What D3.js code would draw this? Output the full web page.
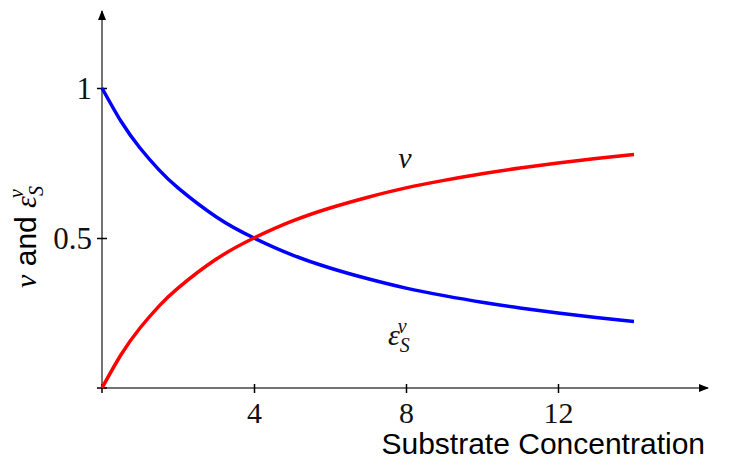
<!DOCTYPE html>
<html>
<head>
<meta charset="utf-8">
<script src="https://cdn.jsdelivr.net/npm/d3@7"></script>
<style>
  body { margin: 0; background: white; }
</style>
</head>
<body>
<div id="chart"></div>
<script>
const w = 729;
const h = 466;

// values
const substrate = [0, 0.5, 1, 1.5, 2, 3, 4, 5, 6, 7, 8, 9, 10, 11, 12, 13, 14];
const rate = [0, 0.111, 0.2, 0.273, 0.333, 0.429, 0.5, 0.556, 0.6, 0.636, 0.667, 0.692, 0.714, 0.733, 0.75, 0.765, 0.778];
const elasticity = [1, 0.889, 0.8, 0.727, 0.667, 0.571, 0.5, 0.444, 0.4, 0.364, 0.333, 0.308, 0.286, 0.267, 0.25, 0.235, 0.222];
const xTicks = [4, 8, 12];
const yTicks = [0.5, 1];

const serif = '"Liberation Serif", "DejaVu Serif", serif';
const sans = '"Liberation Sans", Arial, sans-serif';

const svg = d3.select('#chart')
  .append('svg')
  .attr('width', w)
  .attr('height', h)
  .style('background-color', 'white');

const xScale = d3.scaleLinear().domain([0, 14]).range([102, 634]);
const yScale = d3.scaleLinear().domain([0, 1]).range([388, 88]);

const defs = svg.append('defs');
defs.append('marker')
  .attr('id', 'arrow')
  .attr('viewBox', '0 0 10 10')
  .attr('refX', 9)
  .attr('refY', 5)
  .attr('markerWidth', 10)
  .attr('markerHeight', 10)
  .attr('markerUnits', 'userSpaceOnUse')
  .attr('orient', 'auto')
  .append('path')
  .attr('d', 'M0,1 L10,5 L0,9 Z')
  .attr('fill', 'black');

// axes lines with arrows
svg.append('line')
  .attr('x1', xScale(0)).attr('y1', yScale(0))
  .attr('x2', 708).attr('y2', yScale(0))
  .attr('stroke', '#444').attr('stroke-width', 1.5)
  .attr('marker-end', 'url(#arrow)');

svg.append('line')
  .attr('x1', xScale(0)).attr('y1', yScale(0))
  .attr('x2', xScale(0)).attr('y2', 11)
  .attr('stroke', '#444').attr('stroke-width', 1.5)
  .attr('marker-end', 'url(#arrow)');

// ticks
const xAxis = d3.axisBottom(xScale).tickValues(xTicks).tickSize(0).tickFormat(d3.format('d'));
const gx = svg.append('g')
  .attr('transform', `translate(0, ${yScale(0)})`)
  .call(xAxis);
gx.select('.domain').remove();
gx.selectAll('.tick line')
  .attr('y1', -4).attr('y2', 5)
  .attr('stroke', 'black').attr('stroke-width', 1.5);
gx.selectAll('.tick text')
  .attr('y', 35)
  .attr('dy', 0)
  .attr('font-family', serif)
  .attr('font-size', 30)
  .attr('fill', '#111');

const yAxis = d3.axisLeft(yScale).tickValues(yTicks).tickSize(0).tickFormat(d => d === 1 ? '1' : d);
const gy = svg.append('g')
  .attr('transform', `translate(${xScale(0)}, 0)`)
  .call(yAxis);
gy.select('.domain').remove();
gy.selectAll('.tick line')
  .attr('x1', -5).attr('x2', 5)
  .attr('stroke', 'black').attr('stroke-width', 1.5);
gy.selectAll('.tick text')
  .attr('x', -10)
  .attr('dy', '0.34em')
  .attr('font-family', serif)
  .attr('font-size', 31)
  .attr('fill', '#111');

// origin tick marks
svg.append('line')
  .attr('x1', xScale(0) - 5).attr('x2', xScale(0) + 5)
  .attr('y1', yScale(0)).attr('y2', yScale(0))
  .attr('stroke', 'black').attr('stroke-width', 1.5);
svg.append('line')
  .attr('x1', xScale(0)).attr('x2', xScale(0))
  .attr('y1', yScale(0) - 4).attr('y2', yScale(0) + 5)
  .attr('stroke', 'black').attr('stroke-width', 1.5);

// curves
const line = d3.line()
  .x(d => xScale(d[0]))
  .y(d => yScale(d[1]))
  .curve(d3.curveNatural);

svg.append('path')
  .datum(substrate.map((s, i) => [s, elasticity[i]]))
  .attr('d', line)
  .attr('fill', 'none')
  .attr('stroke', '#0000ff')
  .attr('stroke-width', 3.5);

svg.append('path')
  .datum(substrate.map((s, i) => [s, rate[i]]))
  .attr('d', line)
  .attr('fill', 'none')
  .attr('stroke', '#ff0000')
  .attr('stroke-width', 3.5);

// curve labels
svg.append('text')
  .attr('x', 405).attr('y', 168)
  .attr('text-anchor', 'middle')
  .attr('font-family', serif)
  .attr('font-style', 'italic')
  .attr('font-size', 30)
  .attr('fill', '#111')
  .text('v');

const eps = svg.append('text')
  .attr('x', 388).attr('y', 345)
  .attr('font-family', serif)
  .attr('font-style', 'italic')
  .attr('fill', '#111');
eps.append('tspan').attr('font-size', 30).text('ε');
eps.append('tspan').attr('font-size', 20).attr('dy', 7).text('S');
eps.append('tspan').attr('font-size', 20).attr('dx', -12).attr('dy', -19).text('v');

// axis titles
svg.append('text')
  .attr('x', 705).attr('y', 454)
  .attr('text-anchor', 'end')
  .attr('font-family', sans)
  .attr('font-size', 30)
  .attr('fill', 'black')
  .text('Substrate Concentration');

const yl = svg.append('text')
  .attr('transform', 'translate(36, 237) rotate(-90)')
  .attr('text-anchor', 'middle')
  .attr('fill', 'black');
yl.append('tspan').attr('font-family', serif).attr('font-style', 'italic').attr('font-size', 30).text('v');
yl.append('tspan').attr('font-family', sans).attr('font-size', 30).text(' and ');
yl.append('tspan').attr('font-family', serif).attr('font-style', 'italic').attr('font-size', 30).text('ε');
yl.append('tspan').attr('font-family', serif).attr('font-style', 'italic').attr('font-size', 20).attr('dy', 7).text('S');
yl.append('tspan').attr('font-family', serif).attr('font-style', 'italic').attr('font-size', 20).attr('dx', -12).attr('dy', -20).text('v');
</script>
</body>
</html>
